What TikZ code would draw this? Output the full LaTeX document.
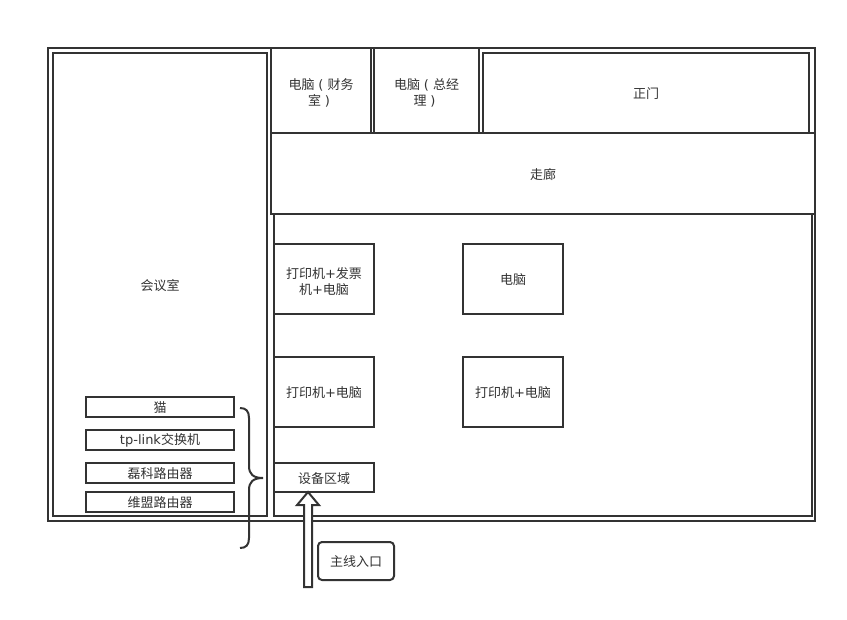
\documentclass[tikz,border=0pt]{standalone}
\usepackage{fontspec}
\setmainfont{DejaVu Sans}
\newfontfamily\cjk{Noto Sans CJK SC}
\newfontfamily\latinfont{DejaVu Sans}
\usepackage{xcolor}
\usetikzlibrary{shapes.arrows, positioning}
\definecolor{inkdark}{HTML}{333333}
\newcommand{\pluschar}{{\latinfont +}}
\newcommand{\openparen}{\makebox[1em][c]{\latinfont (}}
\newcommand{\closeparen}{\makebox[1em][c]{\latinfont )}}
\newcommand{\tallrow}{\rule{0pt}{12pt}}
\tikzset{
  room/.style={rectangle, draw=inkdark, line width=1.5pt, fill=white,
               text=inkdark, align=center, inner sep=0pt, outer sep=0pt,
               anchor=north west, font=\fontsize{9.75}{12}\cjk,
               execute at begin node={\rule{0pt}{9.5pt}}},
  deskbox/.style={room, minimum width=75pt, minimum height=52.5pt},
  kitbox/.style={room, minimum width=111pt, minimum height=15pt},
  notebox/.style={room, rounded corners=3pt, minimum width=57pt, minimum height=28.5pt},
  brace/.style={draw=inkdark, line width=1.5pt},
  feedarrow/.style={single arrow, draw=inkdark, line width=1.5pt, fill=white,
                    rotate=90, inner xsep=0pt, inner ysep=2.25pt, outer sep=0pt,
                    minimum height=71.25pt,
                    single arrow head extend=5.25pt, single arrow tip angle=80},
}

\begin{document}
\begin{tikzpicture}[x=0.75pt, y=-0.75pt]
  \useasboundingbox (0,0) rectangle (847,619);

  % Building
  \node[room, minimum width=575.25pt, minimum height=354.75pt] (outer) at (48,48) {};
  \node[room, minimum width=160.5pt, minimum height=347.25pt] (meeting) at (53,53) {会议室};
  \node[room, minimum width=403.5pt, minimum height=226.5pt] (office) at (274,214) {};

  % Top row
  \node[room, minimum width=75pt, minimum height=63.75pt] (finance) at (271,48)
    {\tallrow 电脑\openparen 财务\\室\closeparen};
  \node[room, minimum width=78.75pt, minimum height=63.75pt] (manager) at (374,48)
    {\tallrow 电脑\openparen 总经\\理\closeparen};
  \node[room, minimum width=244.5pt, minimum height=60pt] (door) at (483,53) {正门};
  \node[room, minimum width=408pt, minimum height=60.75pt] (hall) at (271,133) {走廊};

  % Desks
  \node[deskbox] (desk1) at (274,244) {\tallrow 打印机\pluschar 发票\\机\pluschar 电脑};
  \node[deskbox, right=66.75pt of desk1.north east, anchor=north west] (desk2) {电脑};
  \node[deskbox, below=32.25pt of desk1.south west, anchor=north west] (desk3) {打印机\pluschar 电脑};
  \node[deskbox, below=32.25pt of desk2.south west, anchor=north west] (desk4) {打印机\pluschar 电脑};
  \node[room, minimum width=75pt, minimum height=21.75pt,
        below=27pt of desk3.south west, anchor=north west] (device) {设备区域};

  % Equipment list
  \node[kitbox] (modem) at (86,397) {猫};
  \node[kitbox, below=9.75pt of modem.south west, anchor=north west] (switch)
    {{\latinfont tp-link}交换机};
  \node[kitbox, below=9.75pt of switch.south west, anchor=north west] (netcore) {磊科路由器};
  \node[kitbox, below=6.75pt of netcore.south west, anchor=north west] (mercury) {维盟路由器};

  % Brace
  \coordinate (bracetop) at (240,408);
  \coordinate (bracebot) at (240,548);
  \coordinate (bracetip) at (263,478);
  \draw[brace] (bracetop) .. controls (246,408) and (249,411) .. (249,418)
    -- (249,466) .. controls (249,474) and (253,478) .. (bracetip)
    .. controls (253,478) and (249,482) .. (249,490)
    -- (249,538) .. controls (249,545) and (246,548) .. (bracebot);

  % Main line in
  \coordinate (feedtip) at ([xshift=-12pt]device.south);
  \node[feedarrow, anchor=tip] (feed) at (feedtip) {};
  \node[notebox] (mainline) at (318,542) {主线入口};
\end{tikzpicture}
\end{document}
